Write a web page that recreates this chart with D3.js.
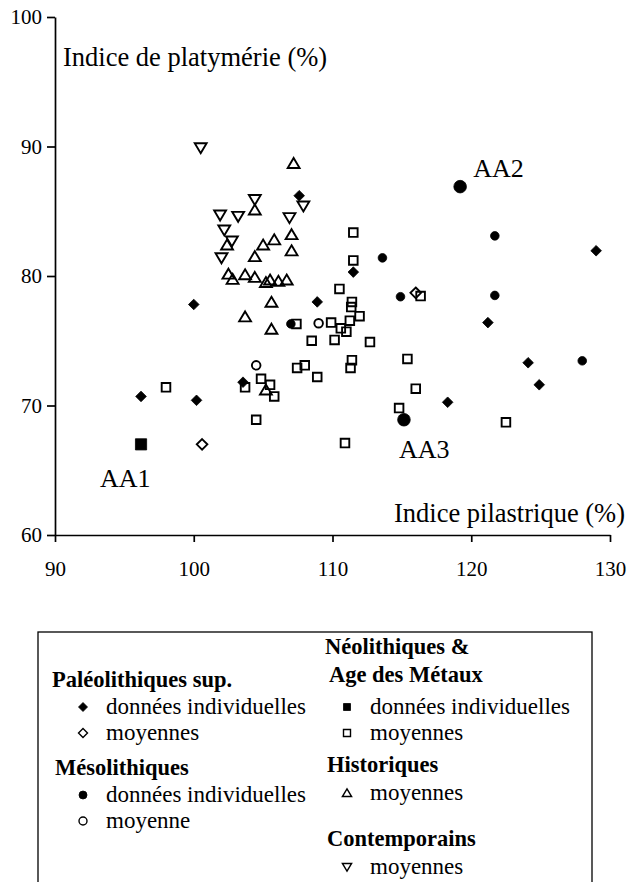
<!DOCTYPE html>
<html>
<head>
<meta charset="utf-8">
<script src="https://cdn.jsdelivr.net/npm/d3@7"></script>
<style>
  body { margin: 0; background: #fff; }
  svg { display: block; font-family: "Liberation Serif", "Times New Roman", serif; }
</style>
</head>
<body>
<svg id="chart"></svg>
<script>
// indice pilastrique (x), indice de platymérie (y)
var paleoIndiv = [[96.2,70.7],[100.0,77.8],[100.2,70.4],[103.55,71.8],[107.6,86.2],[108.9,78.0],
                  [111.5,80.3],[118.3,70.25],[121.2,76.4],[124.1,73.3],[124.9,71.6],[129.0,81.95]];
var paleoMoy = [[100.6,67.0],[116.0,78.7]];
var mesoIndiv = [[107.0,76.3],[113.6,81.4],[114.9,78.4],[121.7,83.1],[121.7,78.5],[128.0,73.45]];
var mesoMoy = [[109.0,76.35],[104.5,73.1]];
var neoMoy = [[98.0,71.4],[103.7,71.4],[104.85,72.06],[105.5,71.6],[105.8,70.7],[104.5,68.9],
              [107.4,76.3],[107.45,72.9],[108.0,73.1],[108.9,72.2],[108.5,75.0],[110.5,79.0],
              [111.5,83.35],[111.5,81.2],[111.4,78.0],[111.35,77.6],[111.95,76.9],[111.25,76.55],
              [109.9,76.4],[110.6,75.96],[111.0,75.7],[110.15,75.06],[112.7,74.9],[111.4,73.5],
              [111.3,72.9],[115.4,73.6],[116.0,71.3],[114.8,69.8],[110.9,67.1],[122.5,68.7],[116.35,78.45]];
var histMoy = [[107.2,88.7],[104.4,85.1],[102.4,82.4],[104.4,81.5],[105.0,82.4],[105.8,82.8],
               [107.05,83.2],[107.05,81.95],[102.5,80.15],[102.8,79.75],[103.7,80.1],[104.4,79.9],
               [105.2,79.5],[105.5,79.7],[106.1,79.6],[106.7,79.7],[103.7,76.85],[105.6,77.98],
               [105.6,75.9],[105.2,71.2]];
var contMoy = [[100.5,89.9],[107.9,85.4],[101.9,84.7],[103.2,84.6],[104.4,85.9],[102.2,83.55],
               [102.75,82.7],[102.0,81.4],[106.9,84.5]];
// individus nommés
var named = [{name:"AA1", shape:"square", x:96.2, y:67.0, dx:-41, dy:43},
             {name:"AA2", shape:"circle", x:119.2, y:86.9, dx:13, dy:-10},
             {name:"AA3", shape:"circle", x:115.15, y:68.9, dx:-5, dy:38}];
var xTicks = [90,100,110,120,130];
var yTicks = [60,70,80,90,100];

var svg = d3.select("#chart").attr("width", 628).attr("height", 882);

var x = d3.scaleLinear().domain([90,130]).range([55,610]);
var y = d3.scaleLinear().domain([60,100]).range([535,17]);

// marker shapes, drawn around 0,0
var shapes = {
  diamond: function(r){ return "M0," + (-r) + "L" + r + ",0L0," + r + "L" + (-r) + ",0Z"; },
  square: function(r){ return "M" + (-r) + "," + (-r) + "h" + (2*r) + "v" + (2*r) + "h" + (-2*r) + "Z"; },
  up: function(r){ return "M0," + (-r) + "L" + (r*1.1) + "," + (r*0.85) + "L" + (-r*1.1) + "," + (r*0.85) + "Z"; },
  down: function(r){ return "M0," + r + "L" + (r*1.1) + "," + (-r*0.85) + "L" + (-r*1.1) + "," + (-r*0.85) + "Z"; },
  circle: function(r){ return d3.symbol(d3.symbolCircle, Math.PI*r*r)(); }
};
var sizes = {diamond: 5.3, square: 4.3, up: 5.4, down: 5.4, circle: 4.3};

function plot(data, shape, filled, r) {
  svg.append("g").selectAll("path")
    .data(data)
    .join("path")
    .attr("d", shapes[shape](r || sizes[shape]))
    .attr("transform", function(d){ return "translate(" + x(d[0]) + "," + y(d[1]) + ")"; })
    .attr("fill", filled ? "#000" : "none")
    .attr("stroke", "#000")
    .attr("stroke-width", filled ? 0.8 : 1.9);
}

plot(neoMoy, "square", false);
plot(histMoy, "up", false);
plot(contMoy, "down", false);
plot(paleoMoy, "diamond", false);
plot(mesoMoy, "circle", false);
plot(paleoIndiv, "diamond", true);
plot(mesoIndiv, "circle", true);

named.forEach(function(n){
  plot([[n.x, n.y]], n.shape, true, n.shape == "circle" ? 6.3 : 5.6);
  svg.append("text")
    .attr("x", x(n.x) + n.dx)
    .attr("y", y(n.y) + n.dy)
    .attr("font-size", 26)
    .text(n.name);
});

// axes
var xAxis = svg.append("g")
  .attr("transform", "translate(0,535)")
  .call(d3.axisBottom(x).tickValues(xTicks).tickSize(7).tickPadding(19).tickSizeOuter(0));
var yAxis = svg.append("g")
  .attr("transform", "translate(55,0)")
  .call(d3.axisLeft(y).tickValues(yTicks).tickSize(8).tickPadding(5).tickSizeOuter(0));
[xAxis, yAxis].forEach(function(a){
  a.selectAll("path, line").attr("stroke", "#000").attr("stroke-width", 1.7);
  a.selectAll("text").attr("font-size", 21).attr("font-family", "Liberation Serif").attr("fill", "#000");
});

svg.append("text").attr("x", 63).attr("y", 66).attr("font-size", 26.5)
  .text("Indice de platymérie (%)");
svg.append("text").attr("x", 625).attr("y", 522).attr("font-size", 26.5)
  .attr("text-anchor", "end").text("Indice pilastrique (%)");

// légende
var legendHeads = [
  {text: "Paléolithiques sup.", x: 52, y: 687},
  {text: "Mésolithiques", x: 55, y: 775},
  {text: "Néolithiques &", x: 325, y: 654},
  {text: "Age des Métaux", x: 329, y: 682},
  {text: "Historiques", x: 327, y: 772},
  {text: "Contemporains", x: 327, y: 846}
];
var legendItems = [
  {shape: "diamond", filled: true, r: 4.5, text: "données individuelles", x: 83, y: 714},
  {shape: "diamond", filled: false, r: 4.5, text: "moyennes", x: 83, y: 740},
  {shape: "circle", filled: true, r: 4, text: "données individuelles", x: 83, y: 802},
  {shape: "circle", filled: false, r: 4, text: "moyenne", x: 83, y: 828},
  {shape: "square", filled: true, r: 3.5, text: "données individuelles", x: 347, y: 714},
  {shape: "square", filled: false, r: 3.5, text: "moyennes", x: 347, y: 740},
  {shape: "up", filled: false, r: 4.2, text: "moyennes", x: 347, y: 800},
  {shape: "down", filled: false, r: 4.2, text: "moyennes", x: 347, y: 874}
];

svg.append("rect")
  .attr("x", 38).attr("y", 632).attr("width", 554).attr("height", 270)
  .attr("fill", "none").attr("stroke", "#000").attr("stroke-width", 1.3);

svg.append("g").selectAll("text")
  .data(legendHeads)
  .join("text")
  .attr("x", function(d){ return d.x; })
  .attr("y", function(d){ return d.y; })
  .attr("font-size", 22.5).attr("font-weight", "bold")
  .text(function(d){ return d.text; });

var li = svg.append("g").selectAll("g")
  .data(legendItems)
  .join("g")
  .attr("transform", function(d){ return "translate(" + d.x + "," + d.y + ")"; });
li.append("path")
  .attr("d", function(d){ return shapes[d.shape](d.r); })
  .attr("transform", "translate(0,-7)")
  .attr("fill", function(d){ return d.filled ? "#000" : "none"; })
  .attr("stroke", "#000")
  .attr("stroke-width", function(d){ return d.filled ? 0.8 : 1.4; });
li.append("text")
  .attr("x", 23)
  .attr("font-size", 23)
  .text(function(d){ return d.text; });
</script>
</body>
</html>
